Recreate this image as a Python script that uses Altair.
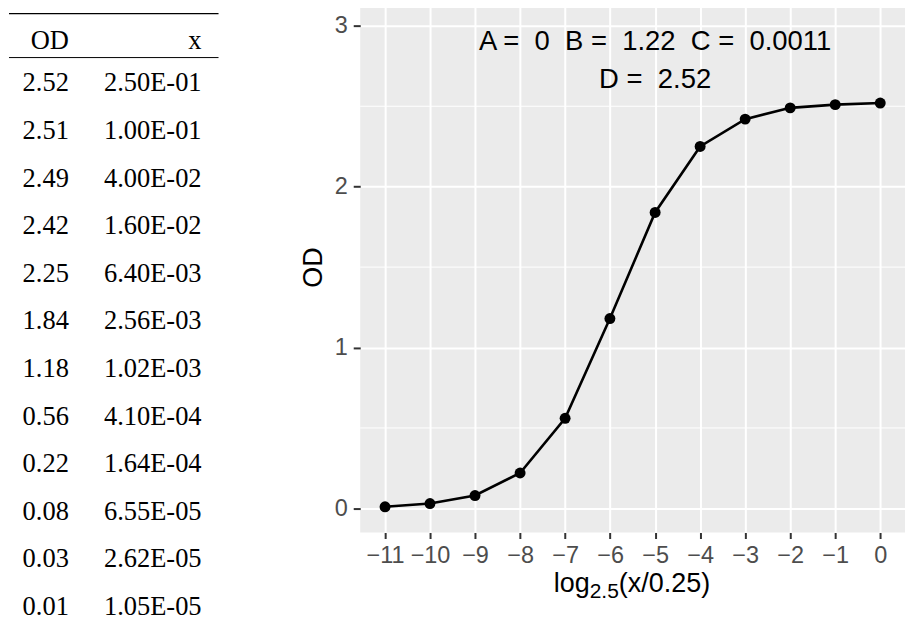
import altair as alt
import pandas as pd
import numpy as np

# ---- data ----
od = [2.52, 2.51, 2.49, 2.42, 2.25, 1.84, 1.18, 0.56, 0.22, 0.08, 0.03, 0.01]
conc = [2.50e-01, 1.00e-01, 4.00e-02, 1.60e-02, 6.40e-03, 2.56e-03,
        1.02e-03, 4.10e-04, 1.64e-04, 6.55e-05, 2.62e-05, 1.05e-05]
x_ticks = list(range(-11, 1))
y_ticks = [0, 1, 2, 3]
y_minor = [0.5, 1.5, 2.5]
col_headers = ["OD", "x"]
ann_x = [-5]
ann_y = [2.78]
ann_lines = ["A =\u00a0 0\u00a0 B =\u00a0 1.22\u00a0 C =\u00a0 0.0011\u00a0",
             "\u00a0D =\u00a0 2.52"]

SANS = "Liberation Sans"
SERIF = "Liberation Serif"

df = pd.DataFrame({"OD": od, "x": conc})
df["lx"] = np.log(df["x"] / 0.25) / np.log(2.5)
df["row"] = list(range(len(df)))
df["od_lbl"] = [f"{v:.2f}" for v in od]
df["x_lbl"] = [f"{v:.2E}" for v in conc]

PW, PH = 546, 532
TW = 212
TFS = 26.5

# ---- table ----
one = pd.DataFrame({"a": [0]})
ytab = alt.Y("row:Q", scale=alt.Scale(domain=[0, 11], range=[82, 606.7]), axis=None)
t_od = alt.Chart(df).mark_text(font=SERIF, fontSize=TFS, align="right",
                               baseline="middle", color="black").encode(
    x=alt.value(60), y=ytab, text="od_lbl:N")
t_x = alt.Chart(df).mark_text(font=SERIF, fontSize=TFS, align="right",
                              baseline="middle", color="black").encode(
    x=alt.value(193), y=ytab, text="x_lbl:N")
h_od = alt.Chart(one).mark_text(text=col_headers[0], font=SERIF, fontSize=TFS, align="right",
                                baseline="middle", color="black").encode(
    x=alt.value(60), y=alt.value(39))
h_x = alt.Chart(one).mark_text(text=col_headers[1], font=SERIF, fontSize=TFS, align="right",
                               baseline="middle", color="black").encode(
    x=alt.value(193), y=alt.value(39))
r_top = alt.Chart(one).mark_rule(color="black", strokeWidth=1.4).encode(
    x=alt.value(0), x2=alt.value(210), y=alt.value(12))
r_mid = alt.Chart(one).mark_rule(color="black", strokeWidth=1.0).encode(
    x=alt.value(0), x2=alt.value(210), y=alt.value(56))
table = alt.layer(r_top, r_mid, h_od, h_x, t_od, t_x).properties(
    width=TW, height=PH, view=alt.ViewBackground(fill=None, stroke=None))

# ---- plot ----
xs = alt.Scale(domain=[-11.55, 0.55], nice=False, zero=False)
ys = alt.Scale(domain=[-0.15, 3.15], nice=False, zero=False)
common = dict(grid=True, gridColor="white", gridWidth=2, ticks=True,
              tickColor="#333333", tickWidth=2, domain=False,
              labelFont=SANS, labelFontSize=23.5, labelColor="#4D4D4D")
x_axis = alt.Axis(values=x_ticks, format="d", title=None, tickSize=6,
                  labelPadding=5, labelFlush=False, labelOverlap=False, **common)
y_axis = alt.Axis(values=y_ticks, format="d", title="OD", tickSize=7,
                  labelPadding=6, titleFont=SANS, titleFontSize=27,
                  titleFontWeight="normal", titleColor="black", titlePadding=7,
                  **common)

minor = alt.Chart(pd.DataFrame({"m": y_minor})).mark_rule(
    color="white", strokeWidth=1).encode(y=alt.Y("m:Q", scale=ys))
line = alt.Chart(df).mark_line(color="black", strokeWidth=2.6).encode(
    x=alt.X("lx:Q", scale=xs, axis=x_axis),
    y=alt.Y("OD:Q", scale=ys, axis=y_axis))
pts = alt.Chart(df).mark_circle(size=120, color="black", opacity=1).encode(
    x=alt.X("lx:Q", scale=xs), y=alt.Y("OD:Q", scale=ys))
ann = alt.Chart(pd.DataFrame({"ax": ann_x, "ay": ann_y,
                              "lab": ["\n".join(ann_lines)]})).mark_text(
    font=SANS, fontSize=27.5, color="black", align="center", baseline="middle",
    lineBreak="\n", lineHeight=38, dy=-19).encode(
    x=alt.X("ax:Q", scale=xs), y=alt.Y("ay:Q", scale=ys), text="lab:N")

FS, SUB = 27, 21
x0 = 194
t1 = alt.Chart(one).mark_text(text="log", font=SANS, fontSize=FS, align="left",
                              baseline="alphabetic", color="black").encode(
    x=alt.value(x0), y=alt.value(592))
t2 = alt.Chart(one).mark_text(text="2.5", font=SANS, fontSize=SUB, align="left",
                              baseline="alphabetic", color="black").encode(
    x=alt.value(x0 + 1.334 * FS), y=alt.value(598))
t3 = alt.Chart(one).mark_text(text="(x/0.25)", font=SANS, fontSize=FS, align="left",
                              baseline="alphabetic", color="black").encode(
    x=alt.value(x0 + 1.334 * FS + 1.39 * SUB), y=alt.value(592))

plot = alt.layer(minor, line, pts, ann, t1, t2, t3).properties(
    width=PW, height=PH, view=alt.ViewBackground(fill="#EBEBEB", stroke=None))

chart = alt.hconcat(table, plot, spacing=78).properties(
    padding={"top": -7, "left": 0, "right": 0, "bottom": 0}
).configure_view(strokeWidth=0)

chart.save("out.html", embed_options={"renderer": "svg", "actions": False})
